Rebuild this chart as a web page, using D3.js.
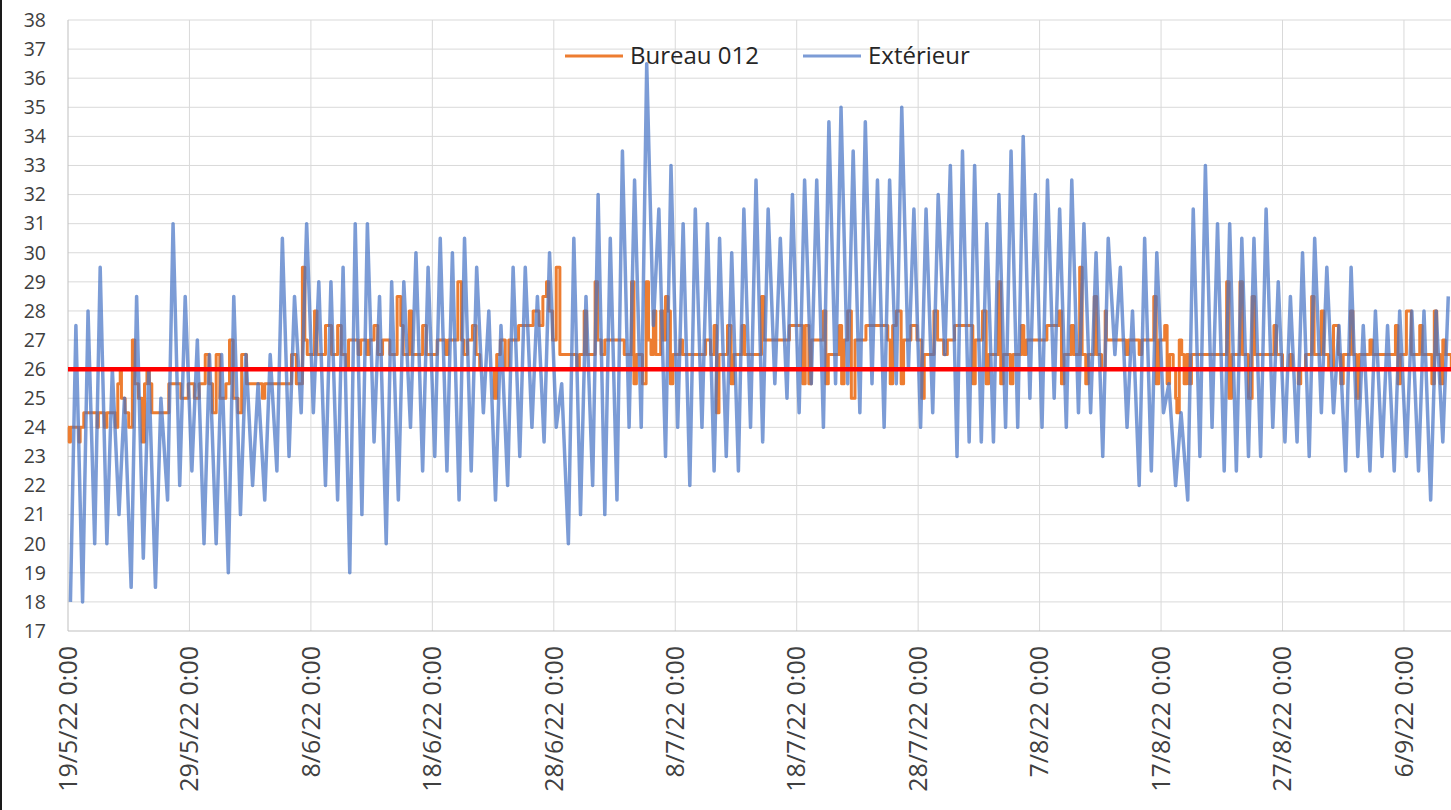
<!DOCTYPE html>
<html>
<head>
<meta charset="utf-8">
<script src="https://cdn.jsdelivr.net/npm/d3@7"></script>
<style>
  html, body { margin: 0; padding: 0; background: #fff; }
  svg { display: block; font-family: "Open Sans", "Liberation Sans", sans-serif; }
</style>
</head>
<body>
<div id="chart"></div>
<script>
// Température relevée : Bureau 012 vs Extérieur (19/5/22 -> 10/9/22)
const startDay = Date.UTC(2022, 4, 19);
const DAY = 864e5;

// Extérieur : minimum (vers 5h) et maximum (vers 15h30) de chaque jour
const extMin = [
  18, 18, 20, 20, 21, 18.5, 19.5, 18.5, 21.5, 22,
  22.5, 20, 20, 19, 21, 22, 21.5, 22.5, 23, 24.5,
  24.5, 22, 21.5, 19, 21, 23.5, 20, 21.5, 24, 22.5,
  23, 22.5, 21.5, 22.5, 24.5, 21.5, 22, 23, 24, 23.5,
  24, 20, 21, 22, 21, 21.5, 24, 24, 27.5, 23,
  24, 22, 24, 22.5, 23, 22.5, 24, 23.5, 25.5, 25,
  24.5, 25.5, 24, 25.5, 25.5, 24.5, 25.5, 24, 25.5, 26,
  24, 24.5, 26.5, 23, 23.5, 23.5, 23.5, 24, 24, 25,
  24, 25, 24, 24.5, 24.5, 23, 26.5, 24, 22, 22.5,
  24.5, 22, 21.5, 23, 24, 22.5, 22.5, 23, 23, 24,
  23.5, 23.5, 23, 24.5, 24.5, 22.5, 23, 22.5, 23, 22.5,
  23, 22.5, 21.5, 23.5
];
const extMax = [
  27.5, 28, 29.5, 26, 25, 28.5, 26, 25, 31, 28.5,
  27, 26.5, 26.5, 28.5, 26.5, 25.5, 26.5, 30.5, 28.5, 31,
  29, 29, 29.5, 31, 31, 28.5, 29, 29, 30, 29.5,
  30.5, 30, 30.5, 29.5, 28, 27.5, 29.5, 29.5, 28.5, 30,
  25.5, 30.5, 28.5, 32, 30.5, 33.5, 32.5, 36.5, 31.5, 33,
  31, 31.5, 31, 30.5, 30, 31.5, 32.5, 31.5, 30.5, 32,
  32.5, 32.5, 34.5, 35, 33.5, 34.5, 32.5, 32.5, 35, 31.5,
  31.5, 32, 33, 33.5, 33, 31, 32, 33.5, 34, 32,
  32.5, 31.5, 32.5, 31, 30, 30.5, 29.5, 28, 30.5, 30,
  25.5, 24.5, 31.5, 33, 31, 31, 30.5, 30.5, 31.5, 29,
  28.5, 30, 30.5, 29.5, 27.5, 29.5, 27.5, 28, 27.5, 28,
  28, 28, 28, 28.5
];

// Bureau 012 : [jour depuis le 19/5, température] à chaque changement de valeur
const bureauReadings = [
  [0, 24], [0.1, 23.5], [0.2, 24], [0.9, 23.5], [1.0, 24], [1.3, 24.5], [2.4, 24], [2.5, 24.5], [3.0, 24], [3.2, 24.5],
  [3.9, 24], [4.1, 25.5], [4.3, 26], [4.4, 25], [4.7, 24.5], [5.0, 24], [5.3, 27], [5.5, 25.5], [5.8, 25], [6.1, 23.5],
  [6.3, 25.5], [6.5, 26], [6.7, 25.5], [6.9, 24.5], [8.3, 25.5], [9.3, 25], [9.9, 25.5], [10.4, 25], [10.8, 25.5], [11.3, 26.5],
  [11.6, 25.5], [11.9, 24.5], [12.2, 26.5], [12.5, 25], [13.0, 25.5], [13.3, 27], [13.6, 25], [14.0, 24.5], [14.3, 26.5], [14.7, 25.5],
  [16.0, 25], [16.2, 25.5], [18.4, 26.5], [18.8, 25.5], [19.3, 29.5], [19.5, 27], [19.7, 26.5], [20.3, 28], [20.5, 26.5], [21.2, 27.5],
  [21.7, 26.5], [22.2, 27.5], [22.5, 26.5], [22.9, 26], [23.1, 27], [23.9, 26.5], [24.1, 27], [24.6, 26.5], [24.8, 27], [25.2, 27.5],
  [25.5, 26.5], [25.9, 27], [26.5, 26.5], [27.1, 28.5], [27.4, 27.5], [27.6, 26.5], [28.1, 28], [28.3, 26.5], [29.2, 27.5], [29.5, 26.5],
  [30.4, 27], [31.1, 26.5], [31.3, 27], [32.1, 29], [32.4, 27], [32.6, 26.5], [32.9, 27], [33.3, 27.5], [33.6, 26.5], [33.9, 26],
  [35.1, 25], [35.3, 26.5], [35.6, 27], [36.0, 26], [36.3, 27], [37.1, 27.5], [38.3, 28], [38.8, 27.5], [39.1, 28.5], [39.4, 29],
  [39.6, 28], [39.9, 27], [40.2, 29.5], [40.5, 26.5], [41.9, 26], [42.1, 26.5], [42.5, 28], [42.7, 26.5], [43.4, 29], [43.6, 27],
  [43.9, 26.5], [44.2, 27], [45.8, 26.5], [46.4, 29], [46.6, 25.5], [46.8, 26.5], [47.3, 25.5], [47.6, 29], [47.8, 27], [48.0, 26.5],
  [48.2, 28], [48.4, 26.5], [48.8, 28], [49.0, 27], [49.2, 28.5], [49.4, 28], [49.6, 25.5], [49.8, 26.5], [50.4, 27], [50.6, 26.5],
  [52.5, 27], [52.9, 26.5], [53.2, 27.5], [53.4, 24.5], [53.6, 26.5], [54.3, 27.5], [54.6, 25.5], [54.8, 26.5], [55.5, 27.5], [55.7, 26.5],
  [57.1, 28.5], [57.3, 27], [59.4, 27.5], [60.5, 25.5], [60.7, 27.5], [61.0, 25.5], [61.2, 27], [62.2, 28], [62.4, 25.5], [62.6, 26.5],
  [63.5, 27.5], [63.7, 25.5], [63.9, 27], [64.2, 28], [64.5, 25], [64.8, 27], [65.7, 27.5], [67.5, 27], [67.7, 25.5], [67.9, 27.5],
  [68.2, 28], [68.6, 25.5], [68.8, 27], [69.4, 27.5], [69.9, 27], [70.3, 25], [70.5, 26.5], [71.3, 28], [71.6, 27], [72.1, 26.5],
  [72.4, 27], [73.0, 27.5], [74.5, 25.5], [74.7, 27], [75.3, 28], [75.6, 25.5], [75.8, 26.5], [76.6, 29], [76.8, 25.5], [77.0, 26.5],
  [77.6, 25.5], [77.8, 26.5], [78.5, 27.5], [78.7, 26.5], [78.9, 27], [80.6, 27.5], [81.6, 28], [81.8, 25.5], [82.0, 26.5], [82.6, 27.5],
  [82.8, 26.5], [83.3, 29.5], [83.5, 26.5], [83.8, 25.5], [84.0, 26.5], [84.5, 28.5], [84.7, 26.5], [85.1, 26], [85.4, 28], [85.5, 27],
  [87.1, 26.5], [87.3, 27], [88.2, 26.5], [88.4, 27], [89.4, 28.5], [89.6, 25.5], [89.8, 27], [90.3, 27.5], [90.5, 25.5], [90.7, 26.5],
  [91.0, 26], [91.2, 25], [91.3, 24.5], [91.5, 27], [91.7, 26.5], [91.9, 25.5], [92.1, 26.5], [92.3, 25.5], [92.5, 26.5], [95.4, 29],
  [95.6, 25], [95.8, 26.5], [96.5, 29], [96.7, 26.5], [97.2, 25], [97.5, 28.5], [97.7, 26.5], [99.3, 27.5], [99.5, 26.5], [100.0, 26],
  [100.6, 26.5], [100.8, 26], [101.3, 25.5], [101.5, 26], [101.9, 26.5], [102.4, 28.5], [102.6, 26.5], [103.2, 28], [103.4, 26.5], [103.8, 26],
  [104.2, 27.5], [104.6, 26.5], [104.8, 25.5], [105.0, 26.5], [105.6, 28], [105.8, 26.5], [106.1, 25], [106.3, 26.5], [107.2, 27], [107.4, 26.5],
  [109.3, 27.5], [109.5, 25.5], [109.7, 26.5], [110.2, 28], [110.6, 26.5], [111.3, 27.5], [111.5, 26.5], [112.3, 25.5], [112.5, 28], [112.7, 26.5],
  [113.0, 25.5], [113.2, 27], [113.4, 26.5], [113.9, 26], [114.0, 26]
];

const seuil = 26;                       // ligne rouge de référence
const yTicks = d3.range(17, 39, 1);     // 17 .. 38
const xTickDays = d3.range(0, 111, 10); // 19/5, 29/5, ... 6/9
const legendItems = [
  { label: 'Bureau 012', color: '#ED7D31', opacity: 1 },
  { label: 'Extérieur', color: '#4472C4', opacity: 0.7 }
];

const W = 1451, H = 810;
const toDate = d => new Date(startDay + d * DAY);

const svg = d3.select('#chart').append('svg')
  .attr('width', W).attr('height', H);

const x = d3.scaleUtc()
  .domain([toDate(0), toDate(115)])
  .range([68, 68 + 115 * 12.145]);
const y = d3.scaleLinear().domain([17, 38]).range([631, 20]);

// Gridlines
svg.append('g').selectAll('line')
  .data(yTicks.slice(1))
  .join('line')
  .attr('x1', x.range()[0]).attr('x2', W)
  .attr('y1', d => y(d)).attr('y2', d => y(d))
  .attr('stroke', '#d9d9d9').attr('stroke-width', 1);

svg.append('g').selectAll('line')
  .data(xTickDays.slice(1))
  .join('line')
  .attr('x1', d => x(toDate(d))).attr('x2', d => x(toDate(d)))
  .attr('y1', y(38)).attr('y2', y(17))
  .attr('stroke', '#d9d9d9').attr('stroke-width', 1);

// Axes lines
svg.append('line')
  .attr('x1', x.range()[0]).attr('x2', W)
  .attr('y1', y(17)).attr('y2', y(17))
  .attr('stroke', '#bfbfbf').attr('stroke-width', 1);
svg.append('line')
  .attr('x1', x.range()[0]).attr('x2', x.range()[0])
  .attr('y1', y(38)).attr('y2', y(17))
  .attr('stroke', '#bfbfbf').attr('stroke-width', 1);

// Y labels
svg.append('g').selectAll('text')
  .data(yTicks)
  .join('text')
  .attr('x', 46).attr('y', d => y(d))
  .attr('dy', '0.35em')
  .attr('text-anchor', 'end')
  .attr('font-size', 19.5)
  .attr('fill', '#404040')
  .text(d => d);

// X labels (rotated)
const fmt = d3.utcFormat('%-d/%-m/%y %-H:%M');
svg.append('g').selectAll('text')
  .data(xTickDays)
  .join('text')
  .attr('transform', d => `translate(${x(toDate(d))},646) rotate(-90)`)
  .attr('dy', '0.35em')
  .attr('text-anchor', 'end')
  .attr('font-size', 25)
  .attr('fill', '#404040')
  .text(d => fmt(toDate(d)));

// Bureau 012 series
const bureauLine = d3.line()
  .x(d => x(toDate(d[0])))
  .y(d => y(d[1]))
  .curve(d3.curveStepAfter);

svg.append('path')
  .datum(bureauReadings)
  .attr('d', bureauLine)
  .attr('fill', 'none')
  .attr('stroke', '#ED7D31')
  .attr('stroke-width', 3)
  .attr('stroke-linejoin', 'round');

// Extérieur series: min then max for each day
const extPoints = [];
extMin.forEach((v, i) => {
  extPoints.push([i + 0.2, v]);
  extPoints.push([i + 0.65, extMax[i]]);
});

const extLine = d3.line()
  .x(d => x(toDate(d[0])))
  .y(d => y(d[1]));

svg.append('path')
  .datum(extPoints)
  .attr('d', extLine)
  .attr('fill', 'none')
  .attr('stroke', '#4472C4')
  .attr('stroke-opacity', 0.7)
  .attr('stroke-width', 3.5)
  .attr('stroke-linejoin', 'round');

// Threshold line
svg.append('line')
  .attr('x1', x.range()[0]).attr('x2', W)
  .attr('y1', y(seuil)).attr('y2', y(seuil))
  .attr('stroke', '#FF0000').attr('stroke-width', 4.5);

// Legend
const lg = svg.append('g').attr('transform', 'translate(565,56)');
legendItems.forEach((s, i) => {
  const g = lg.append('g').attr('transform', `translate(${i * 238},0)`);
  g.append('line')
    .attr('x1', 0).attr('x2', 58)
    .attr('stroke', s.color)
    .attr('stroke-opacity', s.opacity)
    .attr('stroke-width', 3);
  g.append('text')
    .attr('x', 65).attr('dy', '0.35em')
    .attr('font-size', 24)
    .attr('fill', '#262626')
    .text(s.label);
});

// Left frame edge
svg.append('line')
  .attr('x1', 1).attr('x2', 1)
  .attr('y1', 0).attr('y2', H)
  .attr('stroke', '#1a1a1a').attr('stroke-width', 2);
</script>
</body>
</html>
